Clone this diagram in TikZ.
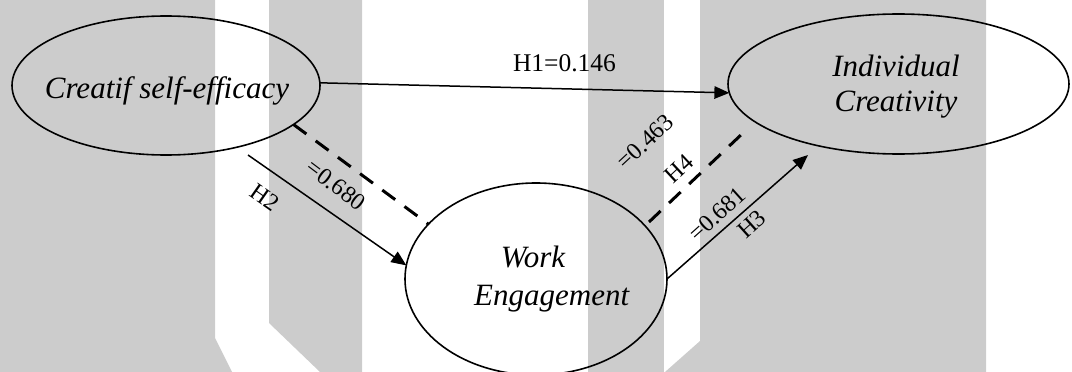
\documentclass[tikz,border=0pt]{standalone}
\usepackage{fontspec}
\setmainfont{Liberation Serif}
\usetikzlibrary{shapes.geometric,arrows.meta}
\definecolor{bandgray}{RGB}{204,204,204}
\begin{document}
\begin{tikzpicture}[x=1pt,y=-1pt,
  latent/.style={draw=black, line width=1.6pt, ellipse, inner sep=0pt, outer sep=0pt},
  causal/.style={draw=black, line width=1.5pt, -{Triangle[length=15pt,width=12.5pt]}},
  mediated/.style={draw=black, line width=3pt, dash pattern=on 16pt off 11.6pt},
  lbl/.style={font=\fontsize{25.5}{28}\selectfont, inner sep=0pt},
  rlbl/.style={font=\fontsize{24}{26}\selectfont, inner sep=0pt},
  vartext/.style={font=\fontsize{31}{35.7}\selectfont\itshape, align=center, inner sep=0pt},
  band/.style={fill=bandgray, draw=none}]
\useasboundingbox (0,0) rectangle (1072,372);
\clip (0,0) rectangle (1072,372);
% background bands
\path[band] (0,0) -- (215,0) -- (215,338) -- (232,372) -- (0,372) -- cycle;
\path[band] (269,0) -- (362,0) -- (362,372) -- (320,372) -- (269,323) -- cycle;
\path[band] (588,0) -- (664,0) -- (664,372) -- (588,372) -- cycle;
\path[band] (700,0) -- (986,0) -- (986,372) -- (665,372) -- (700,341) -- cycle;
% latent variables
\node[latent, minimum width=308pt, minimum height=139pt] (e1) at (166,85.5) {};
\node[latent, minimum width=341pt, minimum height=140pt] (e2) at (898.5,84) {};
\node[latent, minimum width=262pt, minimum height=192pt] (e3) at (536,279) {};
\node[vartext, anchor=base] (t1) at (167,98) {Creatif self-efficacy};
\node[vartext, anchor=base] (t2) at (896,111.7) {Individual\\Creativity};
\node[vartext, anchor=base, font=\fontsize{31}{37.7}\selectfont\itshape] (t3) at (551.7,305) {Work\kern37.4pt\\Engagement};
% free ends
\coordinate (h2s) at (248,155);
\coordinate (h3e) at (808,155);
\coordinate (d2s) at (649,222);
\coordinate (d2e) at (743,133);
% paths
\draw[causal] (e1.1) -- (e2.183);
\draw[causal] (h2s) -- (e3.174);
\draw[causal] (e3.east) -- (h3e);
\draw[mediated] (e1.-17) -- (e3.153);
\draw[mediated] (d2s) -- (d2e);
% labels
\node[lbl, anchor=base] (l1) at (564.5,71.7) {H1=0.146};
\node[rlbl, rotate=-37] (l2) at (336,185) {=0.680};
\node[rlbl, rotate=-35] (l3) at (265,197.5) {H2};
\node[rlbl, rotate=43] (l4) at (645.3,141.7) {=0.463};
\node[rlbl, rotate=43] (l5) at (679,169) {H4};
\node[rlbl, rotate=42] (l6) at (717.3,214) {=0.681};
\node[rlbl, rotate=42] (l7) at (751.7,224) {H3};
\end{tikzpicture}
\end{document}
